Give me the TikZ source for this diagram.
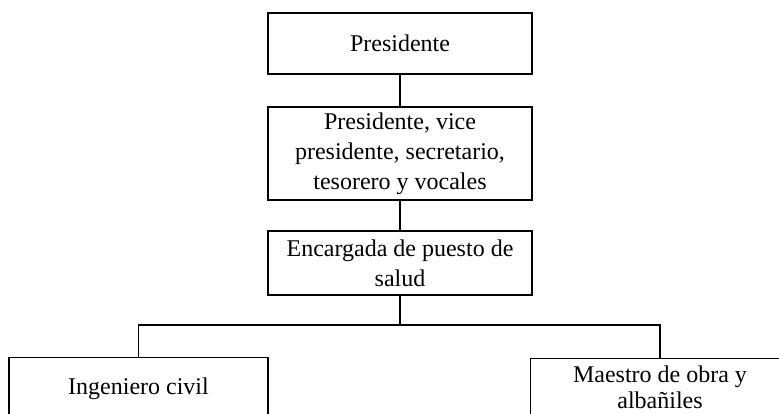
\documentclass[tikz,border=0pt]{standalone}
\usepackage{fontspec}
\setmainfont{Liberation Serif}

\begin{document}
\begin{tikzpicture}[
        x=1pt,y=-1pt,line width=1.2pt,
        every node/.style={font=\fontsize{24}{30}\selectfont},
        orgbox/.style={draw,rectangle,align=center,inner sep=0pt,minimum width=264pt},
        cutbox/.style={draw,rectangle,anchor=north,align=flush center,inner sep=0pt,
                       minimum width=259pt,text width=240pt,text depth=90pt},
        ]
        \useasboundingbox (0,0) rectangle (779,413);

        \node[orgbox,minimum height=61pt]            (pres)  at (400,43.5) {Presidente};
        \node[orgbox,minimum height=93pt]            (junta) at (400,153.5) {Presidente, vice\\presidente, secretario,\\tesorero y vocales};
        \node[orgbox,minimum height=64pt]            (salud) at (400,263) {Encargada de puesto de\\salud};
        \node[cutbox,text height=37pt]               (ing)   at (138.5,357) {Ingeniero civil};
        \node[cutbox,text height=24pt,
              font=\fontsize{24}{26}\selectfont]     (obra)  at (660,358) {Maestro de obra y\\albañiles};
        \coordinate (bus) at (400,325);

        \draw (pres) -- (junta);
        \draw (junta) -- (salud);
        \draw (salud) -- (bus);
        \draw (bus) -| (ing.north);
        \draw (bus) -| (obra.north);
\end{tikzpicture}
\end{document}
